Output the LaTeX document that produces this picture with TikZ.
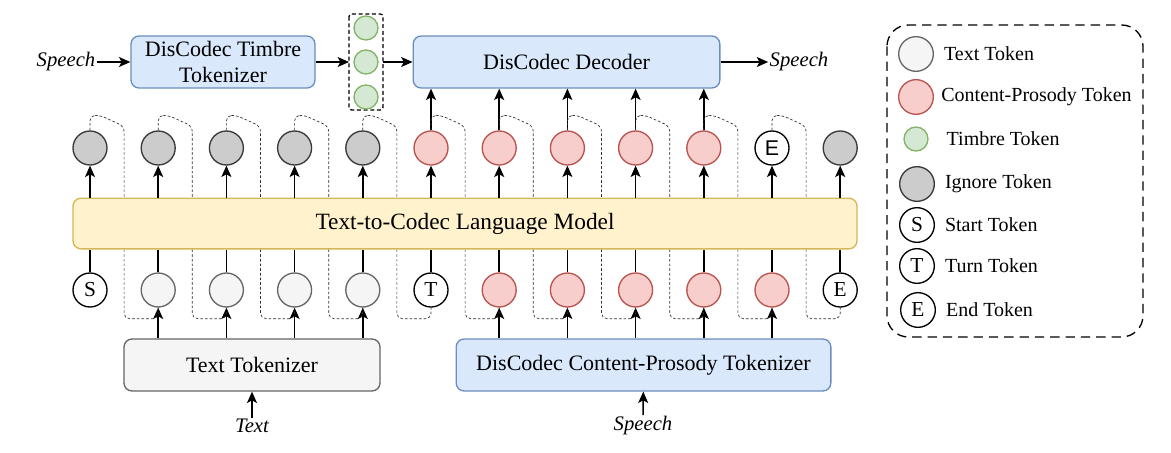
\documentclass[tikz,border=0pt]{standalone}
\usepackage{fontspec}
\setmainfont{Liberation Serif}
\newfontfamily\sansE{Liberation Sans}
\usetikzlibrary{arrows.meta,positioning,calc}
\definecolor{bluef}{HTML}{DAE8FC}
\definecolor{blued}{HTML}{6C8EBF}
\definecolor{yelf}{HTML}{FFF2CC}
\definecolor{yeld}{HTML}{D6B656}
\definecolor{greyf}{HTML}{F5F5F5}
\definecolor{greyd}{HTML}{666666}
\definecolor{ignf}{HTML}{CCCCCC}
\definecolor{ignd}{HTML}{36393D}
\definecolor{cpf}{HTML}{F8CECC}
\definecolor{cpd}{HTML}{B85450}
\definecolor{timf}{HTML}{D5E8D4}
\definecolor{timd}{HTML}{82B366}

\begin{document}
\begin{tikzpicture}[
   x=0.75pt,y=-0.75pt,
   font=\fontsize{16.5}{19}\selectfont,
   blk/.style   ={draw=blued,fill=bluef,rounded corners=6pt,line width=1pt,minimum height=39pt,align=center},
   tk/.style    ={draw=greyd,fill=greyf,rounded corners=6pt,line width=1pt,minimum height=39pt,align=center},
   lmbox/.style ={draw=yeld,fill=yelf,rounded corners=6pt,line width=1pt,minimum height=38pt,minimum width=588pt,font=\fontsize{17.5}{20}\selectfont},
   tok/.style   ={circle,line width=1pt,minimum size=25.5pt,inner sep=0pt,font=\fontsize{16}{18}\selectfont},
   ign/.style   ={tok,draw=ignd,fill=ignf},
   txt/.style   ={tok,draw=greyd,fill=greyf},
   cp/.style    ={tok,draw=cpd,fill=cpf},
   tim/.style   ={tok,draw=timd,fill=timf,minimum size=18pt},
   spc/.style   ={tok,draw=black,fill=white},
   io/.style    ={font=\fontsize{15.5}{18}\selectfont\itshape,inner sep=1pt},
   fl/.style    ={-{Stealth[length=8.5pt,width=7.5pt,inset=2pt]},line width=1.1pt},
   skip/.style  ={dash pattern=on 2pt off 1.5pt,line width=0.5pt,draw=black!80,rounded corners=4pt}
  ]
  \useasboundingbox (0,0) rectangle (1171,453);

  % top row
  \node[blk,minimum width=138pt] (tim) at (223,62) {DisCodec Timbre\\[1pt]Tokenizer};
  \node[io] (spin) at (66,62) {Speech};
  \draw[densely dashed,line width=1pt,rounded corners=2pt] (349,14) rectangle (383,110);
  \node[tim] (t1) at (366,28) {};
  \node[tim] (t2) at (366,62) {};
  \node[tim] (t3) at (366,97) {};
  \node[blk,minimum width=230pt] (dec) at (566.5,62) {DisCodec Decoder};
  \node[io] (spout) at (799,62) {Speech};

  % language model
  \node[lmbox] (lm) at (465,223.5) {Text-to-Codec Language Model};

  % output tokens
  \foreach \k/\s/\t in {1/ign/{},2/ign/{},3/ign/{},4/ign/{},5/ign/{},6/cp/{},7/cp/{},8/cp/{},9/cp/{},10/cp/{},11/spc/{\sansE E},12/ign/{}}
    \node[\s] (o\k) at ({90+68.2*(\k-1)},148) {\t};

  % input tokens
  \foreach \k/\s/\t in {1/spc/S,2/txt/{},3/txt/{},4/txt/{},5/txt/{},6/spc/T,7/cp/{},8/cp/{},9/cp/{},10/cp/{},11/cp/{},12/spc/E}
    \node[\s] (i\k) at ({90+68.2*(\k-1)},290) {\t};

  % tokenizers
  \node[tk,minimum width=192pt] (tt) at (252,365) {Text Tokenizer};
  \node[blk,minimum width=281pt] (cpt) at (643.5,365) {DisCodec Content-Prosody Tokenizer};
  \node[io] (txin) at (252,426) {Text};
  \node[io] (spin2) at (643,426) {Speech};

  % legend
  \draw[line width=1pt,dash pattern=on 7pt off 4.5pt,rounded corners=16pt] (887,25) rectangle (1143,337);
  \begin{scope}[font=\fontsize{15}{18}\selectfont,node distance=4pt]
    \node[txt,minimum size=26pt] (l1) at (916,54) {};
    \node[right=of l1] {Text Token};
    \node[cp,minimum size=26pt] (l2) at (916,97) {};
    \node[right=2pt of l2] {Content-Prosody Token};
    \node[tim] (l3) at (916,139) {};
    \node[right=10pt of l3] {Timbre Token};
    \node[ign,minimum size=26pt] (l4) at (917,184) {};
    \node[right=of l4] {Ignore Token};
    \node[spc,minimum size=26pt] (l5) at (917,225) {S};
    \node[right=of l5] {Start Token};
    \node[spc,minimum size=26pt] (l6) at (917,266) {T};
    \node[right=of l6] {Turn Token};
    \node[spc,minimum size=26pt] (l7) at (918,310) {E};
    \node[right=of l7] {End Token};
  \end{scope}

  % connectors
  \draw[fl] (spin) -- (tim);
  \draw[fl] (tim.east) -- (349,62);
  \draw[fl] (383,62) -- (dec.west);
  \draw[fl] (dec) -- (spout);
  \foreach \k in {1,...,12} {
    \draw[fl] (lm.north -| o\k) -- (o\k);
    \draw[line width=1.1pt] (i\k) -- (lm.south -| i\k);
  }
  \foreach \k in {6,...,10}
    \draw[fl] (o\k) -- (dec.south -| o\k);
  \foreach \k in {2,...,5}
    \draw[fl] (tt.north -| i\k) -- (i\k);
  \foreach \k in {7,...,11}
    \draw[fl] (cpt.north -| i\k) -- (i\k);
  \draw[fl] (txin) -- (tt);
  \draw[fl] (spin2) -- (cpt);

  % shifted feedback
  \foreach \k in {1,...,11} {
    \coordinate (m\k) at ({90+68.2*(\k-1)+34.1},0);
    \draw[skip] (o\k.north) -- ++(0,-15) -- ++(10,0) -- ($(m\k |- o\k.north)+(0,-4)$) -- (lm.north -| m\k);
  }
  \foreach \k/\n in {1/2,2/3,3/4,4/5,5/6,6/7,7/8,8/9,9/10,10/11,11/12}
    \draw[skip] (lm.south -| m\k) -- ($(m\k |- i\n.south)+(0,11)$) -- ($(i\n.south)+(0,11)$) -- (i\n.south);
\end{tikzpicture}
\end{document}
